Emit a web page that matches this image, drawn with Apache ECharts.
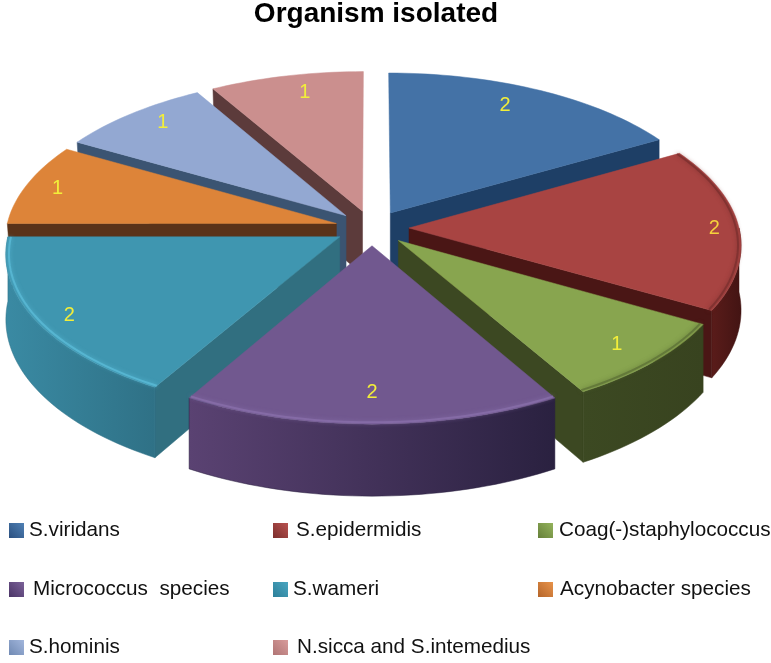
<!DOCTYPE html>
<html>
<head>
<meta charset="utf-8">
<title>Organism isolated</title>
<script src="https://cdn.jsdelivr.net/npm/echarts@6/dist/echarts.min.js"></script>
<style>
  html, body { margin: 0; background: #fff; }
  #chart { width: 771px; height: 663px; }
</style>
</head>
<body>
<div id="chart"></div>
<script>
"use strict";
const CATEGORIES = ["S.viridans", "S.epidermidis", "Coag(-)staphylococcus", "Micrococcus  species",
                    "S.wameri", "Acynobacter species", "S.hominis", "N.sicca and S.intemedius"];
const VALUES = [2, 2, 1, 2, 2, 1, 1, 1];

// ---- styles, same order as the categories ----
const TOPS = ["#4472a6", "#a84442", "#88a54f", "#71588f", "#3f96b0", "#dd8439", "#93a8d2", "#cb8f8e"];
const WALLS = [["#1e3f66", "#1e3f66"], ["#5a1c1a", "#431413"], ["#3c4922", "#38431f"], ["#5a4272", "#2a2140"],
               ["#3a8aa3", "#2f7186"], ["#5a3319", "#5a3319"], ["#3b5472", "#3b5472"], ["#5c3b3b", "#5c3b3b"]];
const SIDES = ["#1e3f66", "#4a1615", "#3c4822", "#2a2140", "#316f80", "#5a3319", "#3b5472", "#5c3b3b"];
const RIMS = [null, "#7a2f2d", "#5c7035", "#8a70ab", "#5cbcd8", null, null, null];
const ICONS = [["#2b5080", "#4f80b4"], ["#7c2e2c", "#b85250"], ["#66803a", "#94b35c"], ["#4a3466", "#7c6299"],
               ["#2c7f99", "#4aa5c0"], ["#b5652a", "#e8934a"], ["#7089b3", "#a2b6dc"], ["#b07575", "#d89c9b"]];

// ---- label spot per slice: radius as share of R, shift in degrees ----
const LABEL_R = [0.84, 0.925, 0.865, 0.84, 0.905, 0.90, 0.88, 0.86];
const LABEL_SHIFT = [-3, 0, 0, 0, -1.5, 0, 2, 2];

// ---- legend spots: [left, middle y, extra text gap] ----
const LEGEND_SPOTS = [[9, 529, 0], [273, 529, 3], [538, 529, 1], [9, 588, 4],
                      [273, 588, 0], [538, 588, 2], [9, 646, 0], [273, 646, 4]];

// ---- pie projection ----
const CX = 372, CY = 228;     // pie axis on screen
const R = 330;                // radius
const EXPLODE = 37;           // slice pull-out along its bisector
const SQUASH = 0.475;         // tilt of the top face
const PERSP = 0.10;           // front looks bigger than the back
const DEPTH = 64;             // slice thickness

const TOTAL = VALUES.reduce((a, b) => a + b, 0);
const rad = (d) => d * Math.PI / 180;

// angles run clockwise from 12 o'clock
let sum = 0;
const SLICES = VALUES.map((v, i) => {
  const a = sum / TOTAL * 360;
  sum += v;
  const b = sum / TOTAL * 360;
  return { i, a, b, mid: (a + b) / 2 };
});

function project(slice, angle, r, drop) {
  const m = rad(slice.mid), t = rad(angle);
  const u = EXPLODE * Math.sin(m) + r * Math.sin(t);
  const v = -EXPLODE * Math.cos(m) - r * Math.cos(t);
  const s = 1 / (1 - PERSP * v / R);
  return [CX + u * s, CY + (v * SQUASH + drop) * s];
}

function arc(slice, from, to, r, drop) {
  const pts = [];
  for (let d = from; d <= to + 0.01; d += 1.5) pts.push(project(slice, d, r, drop));
  return pts;
}

function renderSlice(slice) {
  const i = slice.i;
  const top = arc(slice, slice.a, slice.b, R, 0);
  const apex = project(slice, slice.a, 0, 0), apexLow = project(slice, slice.a, 0, DEPTH);
  const kids = [];
  const side = (angle) => {
    // back-left walls tuck in a little so they don't peek out past the teal slice
    const foot = angle >= 270 ? R - 5 : R;
    const p = project(slice, angle, R, 0), q = project(slice, angle, foot, DEPTH);
    kids.push({ type: "polygon", shape: { points: [apex, p, q, apexLow] },
      style: { fill: SIDES[i], stroke: SIDES[i], lineWidth: 0.5 } });
  };
  // radial walls only when they face the viewer
  if (Math.sin(rad(slice.a)) < -0.01) side(slice.a);
  if (Math.sin(rad(slice.b)) > 0.01) side(slice.b);
  // outer wall only on the front half of the pie
  const from = Math.max(slice.a, 90), to = Math.min(slice.b, 270);
  if (to > from) {
    const upper = arc(slice, from, to, R, 0), lower = arc(slice, from, to, R, DEPTH);
    kids.push({ type: "polygon", shape: { points: upper.concat(lower.reverse()) },
      style: { fill: { type: "linear", x: 0, y: 0, x2: 1, y2: 0, colorStops: [
        { offset: 0, color: WALLS[i][0] }, { offset: 1, color: WALLS[i][1] }] },
        stroke: WALLS[i][1], lineWidth: 0.5 } });
  }
  kids.push({ type: "polygon", shape: { points: [apex].concat(top) },
    style: { fill: TOPS[i], stroke: TOPS[i], lineWidth: 0.5 } });
  // soft bevel along the outer edge
  if (RIMS[i]) kids.push({ type: "polyline", shape: { points: arc(slice, slice.a, slice.b, R - 3, 0) },
    style: { fill: "none", stroke: RIMS[i], lineWidth: 2, opacity: 0.75, shadowBlur: 4, shadowColor: RIMS[i] } });
  const lp = project(slice, slice.mid + LABEL_SHIFT[i], R * LABEL_R[i], 0);
  kids.push({ type: "text", x: lp[0], y: lp[1],
    style: { text: String(VALUES[i]), fill: i === 1 ? "#f5d23c" : "#f2ee3a", fontSize: 20,
      fontFamily: "Liberation Sans", align: "center", verticalAlign: "middle" } });
  return { type: "group", children: kids };
}

// painter's order: back of the pie first
const depthOrder = SLICES.slice().sort((p, q) => -Math.cos(rad(p.mid)) + Math.cos(rad(q.mid)));

const chart = echarts.init(document.getElementById("chart"), null, { renderer: "canvas" });
chart.setOption({
  animation: false,
  backgroundColor: "#fff",
  title: { text: "Organism isolated", left: 371, top: -5, textAlign: "center",
    textStyle: { fontFamily: "Liberation Sans", fontSize: 28, fontWeight: "bold", color: "#000" } },
  legend: CATEGORIES.map((name, i) => ({
    data: [{ name, itemStyle: { color: { type: "linear", x: 0, y: 1, x2: 1, y2: 0, colorStops: [
      { offset: 0, color: ICONS[i][0] }, { offset: 1, color: ICONS[i][1] }] } } }],
    left: LEGEND_SPOTS[i][0], top: LEGEND_SPOTS[i][1] - 9, padding: 0, selectedMode: false,
    icon: "rect", itemWidth: 15, itemHeight: 15,
    textStyle: { fontFamily: "Liberation Sans", fontSize: 20.7, color: "#111",
      padding: [0, 0, 0, LEGEND_SPOTS[i][2]] } })),
  series: depthOrder.map((slice) => ({
    name: CATEGORIES[slice.i], type: "custom", coordinateSystem: "none", silent: true, clip: false,
    itemStyle: { color: TOPS[slice.i] },
    data: [VALUES[slice.i]],
    renderItem: () => renderSlice(slice) })),
});
</script>
</body>
</html>
